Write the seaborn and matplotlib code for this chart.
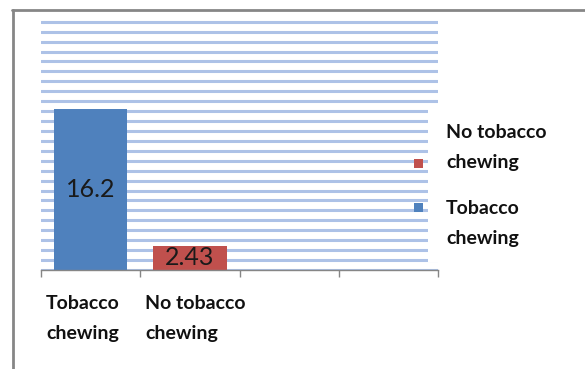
import matplotlib
matplotlib.use("Agg")
import matplotlib.pyplot as plt
import seaborn as sns
import pandas as pd
from matplotlib.lines import Line2D
from matplotlib.patches import Rectangle
from matplotlib.transforms import blended_transform_factory

# ---- data ----
categories = ["Tobacco\nchewing", "No tobacco\nchewing"]
values = [16.2, 2.43]
value_labels = ["16.2", "2.43"]
colors = ["#4f81bd", "#c0504d"]
legend_labels = ["No tobacco\nchewing", "Tobacco\nchewing"]
legend_colors = ["#c0504d", "#4f81bd"]
n_slots = 4
y_max = 25

W, H = 585, 369
sns.set_theme(style="white")
plt.rcParams['font.family'] = ['Lato', 'DejaVu Sans']

fig = plt.figure(figsize=(W / 100, H / 100), dpi=100)
fig.patch.set_facecolor("white")

px_per_unit = 9.93
ylim_top = y_max + 0.2
ax_h = ylim_top * px_per_unit
ax = fig.add_axes([41 / W, 1 - 270 / H, 397 / W, ax_h / H])

df = pd.DataFrame({"cat": categories, "val": values})
sns.barplot(data=df, x="cat", y="val", hue="cat", palette=colors, width=0.74,
            saturation=1, legend=False, ax=ax, linewidth=0, zorder=2)

ax.set_xlim(-0.5, n_slots - 0.5)
ax.set_ylim(0, ylim_top)
ax.set_yticks(range(0, y_max + 1))
ax.set_yticklabels([])
ax.tick_params(axis="y", length=0)
ax.yaxis.grid(True, color="#adc2e7", linewidth=2.2)
ax.xaxis.grid(False)
ax.set_axisbelow(True)
ax.set_xlabel("")
ax.set_ylabel("")

ax.set_xticks([i - 0.5 for i in range(n_slots + 1)])
ax.set_xticklabels([])
ax.tick_params(axis="x", direction="out", length=5, width=1, color="#868686", bottom=True)
for s in ["left", "top", "right"]:
    ax.spines[s].set_visible(False)
ax.spines["bottom"].set_color("#868686")
ax.spines["bottom"].set_linewidth(1)

# value labels
for i, (v, lab) in enumerate(zip(values, value_labels)):
    ax.text(i, v / 2, lab, ha="center", va="center", fontsize=18, color="#1a1a1a", zorder=3)

# category labels
trans = blended_transform_factory(ax.transData, fig.transFigure)
for i, c in enumerate(categories):
    ax.text(i - 0.45, 1 - 295 / H, c, ha="left", va="top", fontsize=14,
            fontweight="bold", color="#111111", linespacing=1.95, transform=trans)

# legend area (white box)
fig.add_artist(Rectangle((428 / W, 1 - 262 / H), 14 / W, 155 / H, transform=fig.transFigure,
                         facecolor="white", edgecolor="none", zorder=5))
marker_y = [163, 207.5]
text_y = [124, 200]
for lab, col, my, ty in zip(legend_labels, legend_colors, marker_y, text_y):
    fig.add_artist(Rectangle(((418.5 - 4.5) / W, 1 - (my + 4.5) / H), 9 / W, 9 / H,
                             transform=fig.transFigure, facecolor=col, edgecolor="none", zorder=6))
    fig.text(446 / W, 1 - ty / H, lab, ha="left", va="top", fontsize=14,
             fontweight="bold", color="#111111", linespacing=1.95, zorder=6)

# outer frame
fig.add_artist(Line2D([12 / W, 1], [1 - 10 / H, 1 - 10 / H], transform=fig.transFigure,
                      color="#868686", linewidth=2))
fig.add_artist(Line2D([13 / W, 13 / W], [1 - 10 / H, 0], transform=fig.transFigure,
                      color="#868686", linewidth=2))

fig.savefig("out.png", dpi=100)
